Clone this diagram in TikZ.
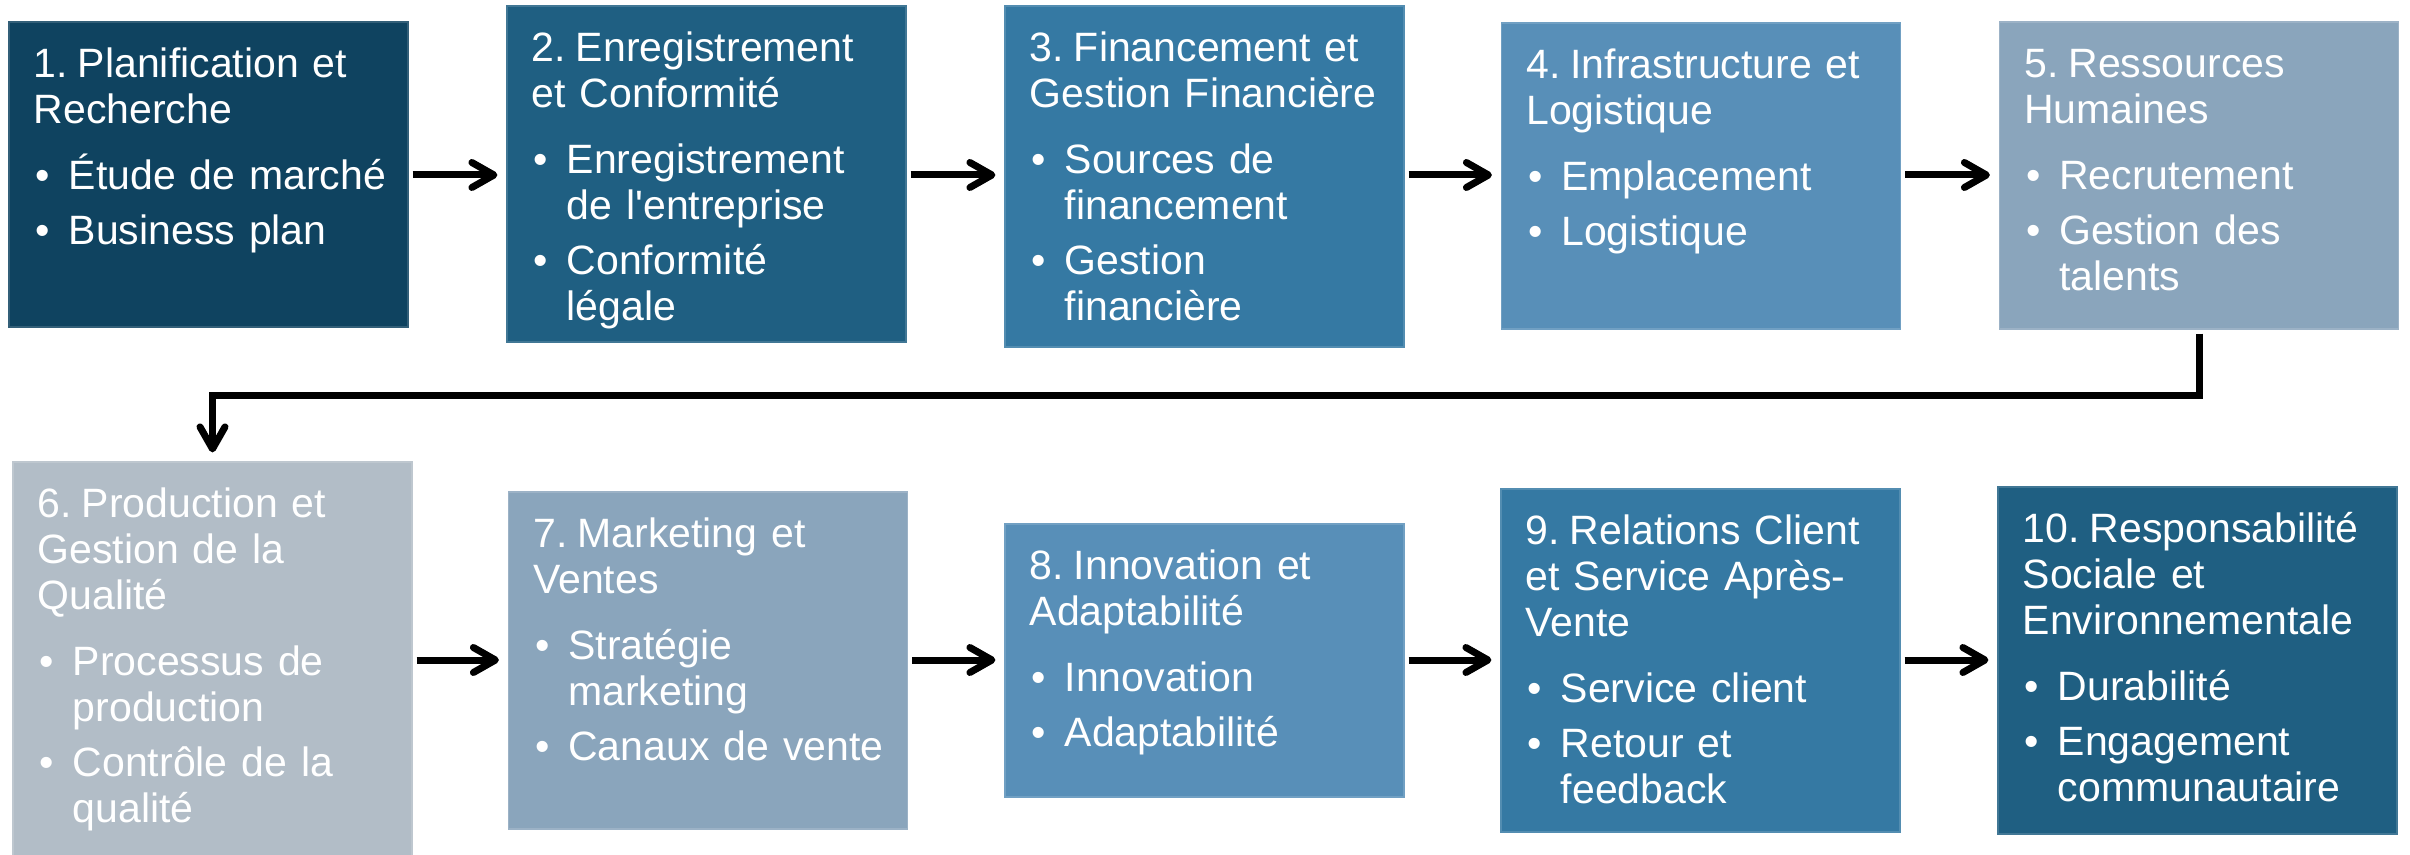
\documentclass[tikz,border=0pt]{standalone}
\usepackage{fontspec}
\setmainfont{Liberation Sans}
\usetikzlibrary{arrows.meta}
\definecolor{cA}{HTML}{0F4360}
\definecolor{cB}{HTML}{1F5F82}
\definecolor{cC}{HTML}{3579A3}
\definecolor{cD}{HTML}{588FB8}
\definecolor{cE}{HTML}{8AA5BC}
\definecolor{cF}{HTML}{B2BDC7}
\newcommand{\ttl}[1]{\fontsize{20.5pt}{23pt}\selectfont\raggedright\spaceskip=0.34em\relax\setlength{\parindent}{0pt}\noindent\rule{0pt}{28pt}#1\par\vspace{10pt}}
\newcommand{\itm}[1]{\hangindent=17.5pt\hangafter=1\noindent\makebox[17.5pt][l]{\hspace{0.9pt}\textbullet}#1\par}
\newcommand{\gapI}{\vspace{4.5pt}}
\begin{document}
\begin{tikzpicture}[x=0.5pt,y=-0.5pt,
  bx/.style={fill=#1, draw=#1!85!white, line width=0.6pt, minimum width=199.5pt, inner sep=0pt},
  bh/.style={minimum height=#1*0.5pt},
  txt/.style={anchor=north west, inner xsep=12.5pt, inner ysep=0pt, text width=240pt, text=white},
  arr/.style={line width=3.5pt, -{Straight Barb[round,length=11pt,width=12.5pt]}, shorten <=2pt, shorten >=4.5pt}
]
\useasboundingbox (0,0) rectangle (2410,855);
\coordinate (r1) at (0,175);
\coordinate (r2) at (0,660);
\coordinate (mid) at (0,396);

% row 1
\node[bx=cA, bh=305] (b1) at (208.5,174.5) {};
\node[bx=cB, bh=336] (b2) at (706.5,174) {};
\node[bx=cC, bh=341] (b3) at (1204.5,176.5) {};
\node[bx=cD, bh=306] (b4) at (1701,176) {};
\node[bx=cE, bh=307] (b5) at (2199,175.5) {};
% row 2
\node[bx=cF, bh=396] (b6) at (212.5,660) {};
\node[bx=cE, bh=337] (b7) at (708,660.5) {};
\node[bx=cD, bh=273] (b8) at (1204.5,660.5) {};
\node[bx=cC, bh=343] (b9) at (1700.5,660.5) {};
\node[bx=cB, bh=347] (b10) at (2197.5,660.5) {};

\node[txt] (t1) at (b1.north west) {\ttl{1. Planification et\newline Recherche}\itm{Étude de marché}\gapI\itm{Business plan}};
\node[txt] (t2) at (b2.north west) {\ttl{2. Enregistrement\newline et Conformité}\itm{Enregistrement\newline de l\textquotesingle entreprise}\gapI\itm{Conformité\newline légale}};
\node[txt] (t3) at (b3.north west) {\ttl{3. Financement et\newline Gestion Financière}\itm{Sources de\newline financement}\gapI\itm{Gestion\newline financière}};
\node[txt] (t4) at (b4.north west) {\ttl{4. Infrastructure et\newline Logistique}\itm{Emplacement}\gapI\itm{Logistique}};
\node[txt] (t5) at (b5.north west) {\ttl{5. Ressources\newline Humaines}\itm{Recrutement}\gapI\itm{Gestion des\newline talents}};
\node[txt] (t6) at (b6.north west) {\ttl{6. Production et\newline Gestion de la\newline Qualité}\itm{Processus de\newline production}\gapI\itm{Contrôle de la\newline qualité}};
\node[txt] (t7) at (b7.north west) {\ttl{7. Marketing et\newline Ventes}\itm{Stratégie\newline marketing}\gapI\itm{Canaux de vente}};
\node[txt] (t8) at (b8.north west) {\ttl{8. Innovation et\newline Adaptabilité}\itm{Innovation}\gapI\itm{Adaptabilité}};
\node[txt] (t9) at (b9.north west) {\ttl{9. Relations Client\newline et Service Après-\newline Vente}\itm{Service client}\gapI\itm{Retour et\newline feedback}};
\node[txt] (t10) at (b10.north west) {\ttl{10. Responsabilité\newline Sociale et\newline Environnementale}\itm{Durabilité}\gapI\itm{Engagement\newline communautaire}};

% connectors
\draw[arr] (b1.east |- r1) -- (b2.west |- r1);
\draw[arr] (b2.east |- r1) -- (b3.west |- r1);
\draw[arr] (b3.east |- r1) -- (b4.west |- r1);
\draw[arr] (b4.east |- r1) -- (b5.west |- r1);
\draw[arr] (b5.south) -- (b5.south |- mid) -- (b6.north |- mid) -- (b6.north);
\draw[arr] (b6.east |- r2) -- (b7.west |- r2);
\draw[arr] (b7.east |- r2) -- (b8.west |- r2);
\draw[arr] (b8.east |- r2) -- (b9.west |- r2);
\draw[arr] (b9.east |- r2) -- (b10.west |- r2);
\end{tikzpicture}
\end{document}
